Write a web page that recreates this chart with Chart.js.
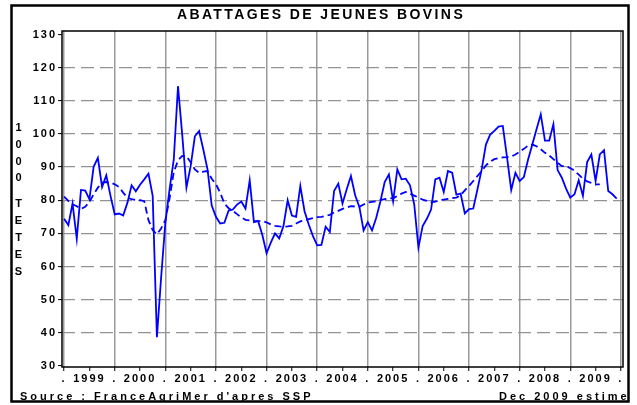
<!DOCTYPE html>
<html>
<head>
<meta charset="utf-8">
<script src="https://cdn.jsdelivr.net/npm/chart.js@4.4.0/dist/chart.umd.min.js"></script>
<style>
  html, body { margin: 0; padding: 0; background: #fff; }
  canvas { display: block; }
</style>
</head>
<body>
<canvas id="chart" width="637" height="405"></canvas>
<script>
// monthly slaughter, Jan 1999 - Dec 2009 (thousand head)
const years = ['1999', '2000', '2001', '2002', '2003', '2004', '2005', '2006', '2007', '2008', '2009']
const monthly = [
  74.4, 72.5, 79.0, 68.4, 83.1, 82.9, 80.3, 90.1, 92.8, 84.0, 87.5, 81.3,
  75.7, 76.0, 75.4, 79.2, 84.5, 82.7, 84.7, 86.3, 88.0, 81.3, 38.7, 56.7,
  73.2, 83.3, 92.3, 114.4, 99.8, 83.8, 90.3, 99.3, 100.9, 95.3, 89.3, 78.4,
  75.0, 73.0, 73.2, 76.9, 77.2, 78.7, 79.6, 77.5, 86.0, 73.4, 73.7, 69.5,
  64.0, 67.2, 70.0, 68.5, 72.2, 80.0, 75.4, 75.0, 84.3, 76.7, 72.7, 69.2,
  66.4, 66.5, 72.0, 70.4, 82.8, 85.0, 79.0, 83.3, 87.3, 81.5, 78.0, 70.9,
  73.4, 70.9, 74.7, 79.7, 85.5, 87.8, 79.7, 89.3, 86.3, 86.5, 84.5, 78.8,
  65.7, 72.2, 74.4, 77.2, 86.3, 86.8, 82.5, 88.8, 88.3, 81.7, 82.0, 76.0,
  77.3, 77.5, 83.3, 89.3, 96.8, 99.8, 100.9, 102.2, 102.4, 93.0, 83.1, 88.3,
  85.8, 87.0, 92.3, 96.8, 101.4, 105.9, 98.0, 98.0, 102.9, 89.1, 86.8, 83.5,
  80.8, 81.8, 86.0, 81.3, 91.5, 93.8, 85.8, 93.8, 95.1, 82.8, 81.8, 80.5
]
// dashed trend, stops a few months before the end
const trend = [
  81.1, 79.8, 78.8, 78.2, 77.4, 78.0, 79.5, 81.8, 83.8, 85.3, 85.5, 85.3,
  84.8, 84.0, 82.3, 80.8, 80.3, 80.1, 80.0, 79.7, 74.0, 71.0, 69.7, 71.5,
  74.0, 80.5, 88.5, 92.0, 93.4, 93.3, 91.5, 89.3, 88.3, 88.6, 88.8, 86.5,
  84.8, 82.3, 79.0, 77.6, 76.8, 75.8, 74.8, 74.1, 73.9, 73.7, 73.7, 73.7,
  73.3, 72.7, 72.3, 72.1, 72.0, 72.1, 72.3, 73.0, 73.6, 74.0, 74.3, 74.6,
  74.9, 75.0, 75.3, 75.6, 76.3, 76.8, 77.4, 77.8, 78.2, 78.1, 78.0, 78.7,
  79.3, 79.5, 79.7, 80.0, 80.3, 80.5, 80.6, 81.3, 82.0, 82.5, 82.0, 81.4,
  80.8, 80.2, 79.8, 79.4, 79.6, 80.0, 80.2, 80.4, 80.6, 80.8, 81.5, 83.0,
  84.3, 85.8, 87.3, 88.8, 90.5, 91.6, 92.4, 92.7, 92.9, 93.0, 93.2, 93.8,
  94.6, 95.5, 96.5, 96.8, 96.3, 95.4, 94.3, 93.5, 92.4, 91.3, 90.3, 90.3,
  89.7, 88.9, 87.7, 86.5, 85.7, 85.2, 84.8, 84.8
]
const yTicks = [30, 40, 50, 60, 70, 80, 90, 100, 110, 120, 130]
const xTicks = [0, 6, 12, 18, 24, 30, 36, 42, 48, 54, 60, 66, 72, 78, 84, 90, 96, 102, 108, 114, 120, 126, 132]

const titleText = 'ABATTAGES DE JEUNES BOVINS'
const yTitleTop = '1000'
const yTitleBottom = 'TETES'
const sourceText = "Source : FranceAgriMer d'apres SSP"
const dateText = 'Dec 2009 estime'

const font = 'Liberation Sans'

function toPoints(values) {
  return values.map(function(v, i) { return {x: i, y: v} })
}

// frame, title, side and bottom texts
const decor = {
  id: 'decor',
  beforeDraw(chart) {
    chart.ctx.letterSpacing = '2px'
  },
  afterDraw(chart) {
    const ctx = chart.ctx
    const a = chart.chartArea
    ctx.save()
    ctx.setLineDash([])
    ctx.strokeStyle = '#000'
    ctx.lineWidth = 1.5
    ctx.strokeRect(a.left, a.top, a.right - a.left, a.bottom - a.top)

    ctx.fillStyle = '#000'
    ctx.font = `bold 14px "${font}"`
    ctx.letterSpacing = '2.4px'
    ctx.textAlign = 'center'
    ctx.textBaseline = 'middle'
    ctx.fillText(titleText, 321, 15)

    ctx.font = `bold 11px "${font}"`
    ctx.letterSpacing = '0px'
    yTitleTop.split('').forEach(function(c, i) { ctx.fillText(c, 18.5, 128 + i * 16.8) })
    yTitleBottom.split('').forEach(function(c, i) { ctx.fillText(c, 18.5, 204 + i * 16.9) })

    ctx.letterSpacing = '3px'
    ctx.textAlign = 'left'
    ctx.textBaseline = 'alphabetic'
    ctx.fillText(sourceText, 20, 400)
    ctx.fillText(dateText, 499, 400)

    ctx.lineWidth = 2.5
    ctx.strokeRect(11.5, 5.5, 617, 396)
    ctx.restore()
  }
}

const ctx = document.getElementById('chart').getContext('2d')

const myChart = new Chart(ctx, {
  type: 'line',
  data: {
    datasets: [{
      label: 'mensuel',
      data: toPoints(monthly),
      borderColor: '#0000ff',
      borderWidth: 1.8,
      pointRadius: 0,
      tension: 0,
      fill: false
    }, {
      label: 'tendance',
      data: toPoints(trend),
      borderColor: '#0000ff',
      borderWidth: 1.8,
      borderDash: [7, 4],
      pointRadius: 0,
      tension: 0,
      fill: false
    }]
  },
  options: {
    responsive: false,
    animation: false,
    layout: {
      padding: {left: 0, right: 14, top: 31, bottom: 18}
    },
    plugins: {
      legend: {display: false},
      tooltip: {enabled: false}
    },
    scales: {
      x: {
        type: 'linear',
        min: -0.5,
        max: 132.5,
        afterBuildTicks: function(scale) {
          scale.ticks = xTicks.map(function(v) { return {value: v} })
        },
        afterFit: function(scale) { scale.height = 20 },
        ticks: {
          autoSkip: false,
          maxRotation: 0,
          padding: 1,
          color: '#000',
          font: {family: font, size: 11, weight: 'bold'},
          callback: function(v) {
            return v % 12 === 0 ? '.' : years[(v - 6) / 12]
          }
        },
        grid: {
          color: function(c) {
            return c.tick && c.tick.value % 12 === 0 ? '#9a9a9a' : 'rgba(0,0,0,0)'
          },
          lineWidth: 1.5,
          tickColor: '#000',
          tickLength: 4,
          tickWidth: 1
        },
        border: {display: false}
      },
      y: {
        min: 29.7,
        max: 131.05,
        afterBuildTicks: function(scale) {
          scale.ticks = yTicks.map(function(v) { return {value: v} })
        },
        afterFit: function(scale) { scale.width = 62 },
        ticks: {
          padding: 1,
          color: '#000',
          font: {family: font, size: 11, weight: 'bold'}
        },
        grid: {
          color: function(c) {
            return c.tick && c.tick.value > 30 && c.tick.value < 130 ? '#939393' : 'rgba(0,0,0,0)'
          },
          lineWidth: 1.2,
          tickColor: '#000',
          tickLength: 4,
          tickWidth: 1
        },
        border: {display: false, dash: [13, 6]}
      }
    }
  },
  plugins: [decor]
})
</script>
</body>
</html>
